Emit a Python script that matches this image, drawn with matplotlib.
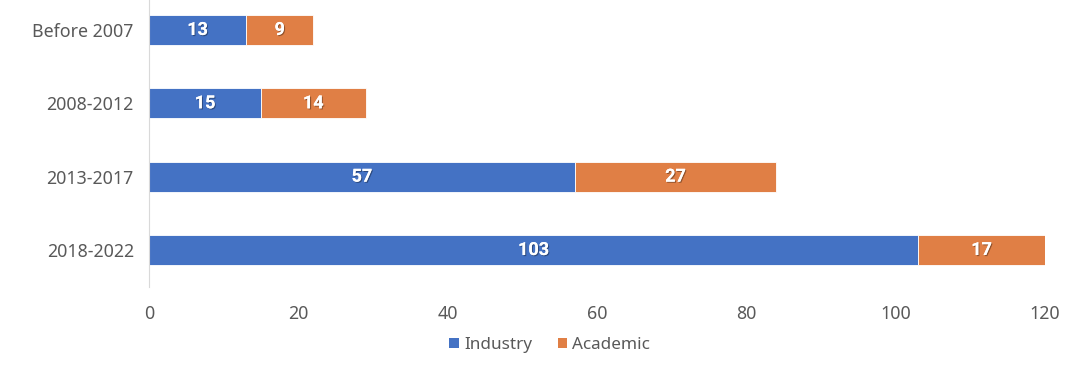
import matplotlib.pyplot as plt
import matplotlib.patheffects as pe

# --- Data ---
periods = ['Before 2007', '2008-2012', '2013-2017', '2018-2022']
industry = [13, 15, 57, 103]
academic = [9, 14, 27, 17]

BLUE = '#4472C4'
ORANGE = '#E07F45'
GREY = '#595959'

plt.rcParams['font.family'] = ['Noto Sans', 'DejaVu Sans']

fig = plt.figure(figsize=(10.8, 3.73), dpi=100)
ax = fig.add_axes([0.138, 0.2314, 0.8296, 0.7866])

ypos = list(range(len(periods)))
b1 = ax.barh(ypos, industry, height=0.41, color=BLUE, edgecolor='white',
             linewidth=0.6, label='Industry')
b2 = ax.barh(ypos, academic, left=industry, height=0.41, color=ORANGE,
             edgecolor='white', linewidth=0.6, label='Academic')

# white bold labels with a soft drop shadow
shadow = [pe.withSimplePatchShadow(offset=(0.8, -0.8), shadow_rgbFace='black', alpha=0.35),
          pe.Normal()]
for bars in (b1, b2):
    for txt in ax.bar_label(bars, label_type='center', color='white',
                            fontsize=13, fontweight='bold', family='Roboto'):
        txt.set_path_effects(shadow)

ax.set_ylim(len(periods) - 0.5, -0.5)
ax.set_xlim(0, 120)
ax.set_xticks(range(0, 121, 20))
ax.set_yticks(ypos)
ax.set_yticklabels(periods)
ax.tick_params(axis='both', length=0, labelsize=12.8, colors=GREY)
ax.tick_params(axis='x', pad=13)
ax.tick_params(axis='y', pad=11)

for side in ('top', 'right', 'bottom'):
    ax.spines[side].set_visible(False)
ax.spines['left'].set_color('#d9d9d9')

leg = fig.legend(loc='center', bbox_to_anchor=(0.509, 0.075), ncol=2, frameon=False,
                 fontsize=12.3, handlelength=0.55, handleheight=0.55,
                 handletextpad=0.3, columnspacing=1.5, labelcolor=GREY)
for h in leg.legend_handles:
    h.set_linewidth(0)

fig.savefig('out.png', dpi=100)
